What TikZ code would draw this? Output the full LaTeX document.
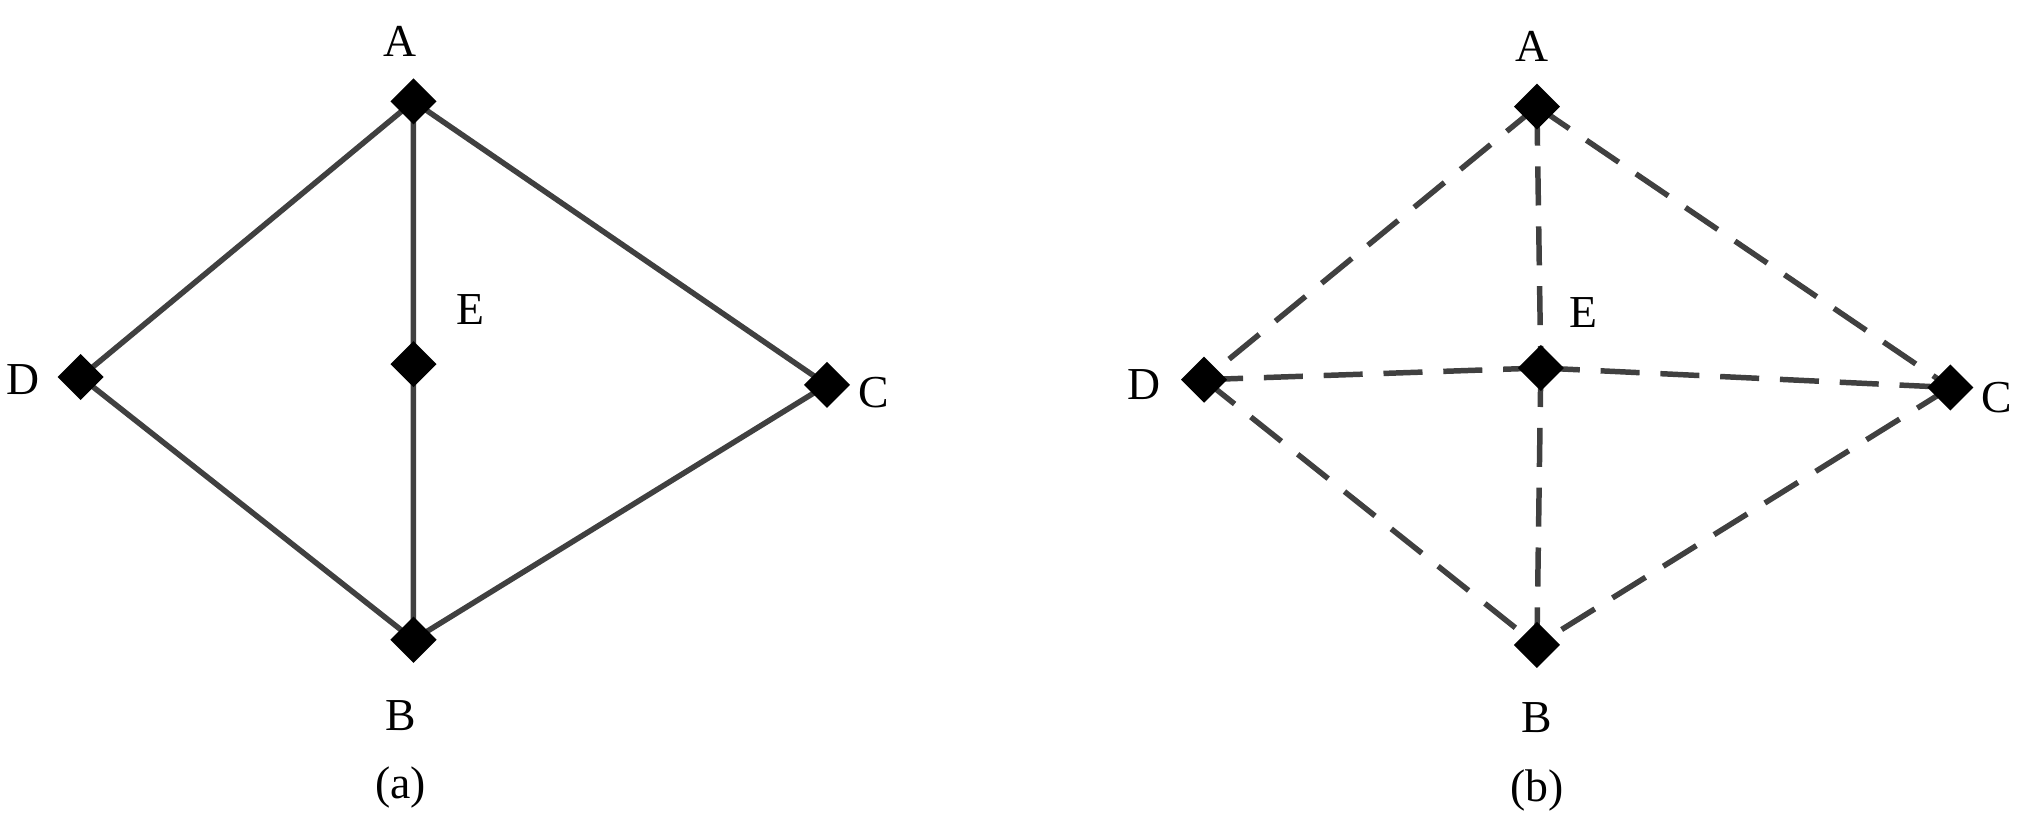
\documentclass[tikz,border=0pt]{standalone}
\usepackage{fontspec}
\setmainfont{Liberation Serif}
\usetikzlibrary{shapes.geometric,backgrounds}
\begin{document}
\begin{tikzpicture}[x=0.01cm,y=-0.01cm,
  v/.style={diamond,fill=black,inner sep=0pt,minimum size=0.36cm},
  lb/.style={font=\fontsize{10}{12}\selectfont,inner sep=0pt},
  e/.style={draw=black!75,line width=1.2pt},
  d/.style={e,dash pattern=on 0.3cm off 0.16cm}]
\useasboundingbox (0,0) rectangle (1552,634);
% (a)
\node[v] (aA) at (318,78) {};
\node[v] (aE) at (318,280) {};
\node[v] (aD) at (62,290) {};
\node[v] (aC) at (636,296) {};
\node[v] (aB) at (318,492) {};
\node[lb] (laA) at (308,32) {A};
\node[lb] (laE) at (362,238) {E};
\node[lb] (laD) at (18,292) {D};
\node[lb] (laC) at (672,302) {C};
\node[lb] (laB) at (308,550) {B};
\node[lb] (capa) at (308,606) {(a)};
% (b)
\node[v] (bA) at (1182,82) {};
\node[v] (bE) at (1185,283) {};
\node[v] (bD) at (926,292) {};
\node[v] (bC) at (1500,298) {};
\node[v] (bB) at (1182,496) {};
\node[lb] (lbA) at (1178,36) {A};
\node[lb] (lbE) at (1218,240) {E};
\node[lb] (lbD) at (880,296) {D};
\node[lb] (lbC) at (1536,306) {C};
\node[lb] (lbB) at (1182,552) {B};
\node[lb] (capb) at (1182,608) {(b)};
\begin{scope}[on background layer]
\draw[e] (aA.center)--(aD.center) (aA.center)--(aC.center) (aA.center)--(aE.center)
  (aE.center)--(aB.center) (aD.center)--(aB.center) (aC.center)--(aB.center);
\draw[d] (bA.center)--(bD.center);
\draw[d] (bA.center)--(bC.center);
\draw[d] (bA.center)--(bE.center);
\draw[d] (bE.center)--(bB.center);
\draw[d] (bD.center)--(bE.center);
\draw[d] (bE.center)--(bC.center);
\draw[d] (bD.center)--(bB.center);
\draw[d] (bC.center)--(bB.center);
\end{scope}
\end{tikzpicture}
\end{document}
